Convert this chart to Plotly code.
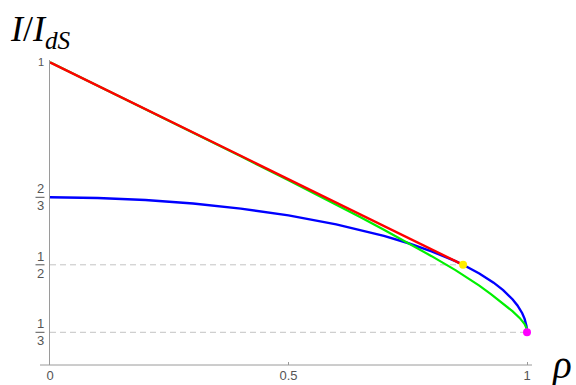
import plotly.graph_objects as go

# --- data -------------------------------------------------------------
rho_blue = [0.0, 0.1, 0.2, 0.3, 0.4, 0.5, 0.6, 0.7, 0.75, 0.8, 0.85, 0.866,
            0.9, 0.93, 0.95, 0.97, 0.98, 0.99, 0.995, 0.999, 1.0]
i_blue = [0.6667, 0.6650, 0.6599, 0.6513, 0.6388, 0.6220, 0.6000, 0.5714,
          0.5538, 0.5333, 0.5089, 0.5000, 0.4786, 0.4559, 0.4374, 0.4144,
          0.3997, 0.3804, 0.3666, 0.3482, 0.3333]

rho_green = [0.0, 0.1, 0.2, 0.3, 0.4, 0.5, 0.6, 0.65, 0.7, 0.75, 0.8, 0.85,
             0.875, 0.9, 0.925, 0.95, 0.97, 0.985, 0.995, 0.999, 1.0]
i_green = [1.0, 0.9423, 0.8844, 0.8263, 0.7679, 0.7088, 0.6490, 0.6182,
           0.5867, 0.5545, 0.5213, 0.4868, 0.4683, 0.4484, 0.4270, 0.4045,
           0.3850, 0.3683, 0.3535, 0.3430, 0.3333]

rho_red = [0.0, 0.866]
i_red = [1.0, 0.5]

rho_yellow = [0.866]
i_yellow = [0.5]
rho_magenta = [1.0]
i_magenta = [1 / 3]

rho_half = [0.0, 0.866]
i_half = [0.5, 0.5]
rho_third = [0.0, 1.0]
i_third = [1 / 3, 1 / 3]

x_tick_vals = [0, 0.5, 1]
x_tick_text = ["0", "0.5", "1"]

y_frac_vals = [2 / 3, 1 / 2, 1 / 3]
y_frac_num = ["2", "1", "1"]
y_frac_den = ["3", "2", "3"]
y_top_val = 1.0
y_top_text = "1"

# --- layout geometry --------------------------------------------------
W, H = 576, 385
ML, MR, MT, MB = 50, 44, 60, 20
PW = W - ML - MR
PH = H - MT - MB
X_RANGE = [0.0, 1.01048]
Y_RANGE = [0.25259, 1.00568]


def px_to_paper_x(px):
    return (px - ML) / PW


def px_to_paper_y(py):
    return (H - MB - py) / PH


AXIS_COL = "#9a9a9a"
LABEL_COL = "#555555"
SANS = "Liberation Sans, Arial, sans-serif"
SERIF = "Liberation Serif, Times New Roman, serif"

fig = go.Figure()

# dashed reference levels
for xs, ys in ((rho_half, i_half), (rho_third, i_third)):
    fig.add_trace(go.Scatter(x=xs, y=ys, mode="lines",
                             line=dict(color="#c4c4c4", width=1, dash="6px,4px"),
                             hoverinfo="skip", showlegend=False))

fig.add_trace(go.Scatter(x=rho_blue, y=i_blue, mode="lines",
                         line=dict(color="#0000ff", width=2.4),
                         showlegend=False))
fig.add_trace(go.Scatter(x=rho_green, y=i_green, mode="lines",
                         line=dict(color="#00f000", width=2.2),
                         showlegend=False))
fig.add_trace(go.Scatter(x=rho_red, y=i_red, mode="lines",
                         line=dict(color="#ff0000", width=2.4),
                         showlegend=False))
fig.add_trace(go.Scatter(x=rho_yellow, y=i_yellow, mode="markers",
                         marker=dict(color="#ffee00", size=8),
                         showlegend=False))
fig.add_trace(go.Scatter(x=rho_magenta, y=i_magenta, mode="markers",
                         marker=dict(color="#ff00ff", size=8),
                         showlegend=False))

shapes = []
# horizontal axis, extended slightly left of the vertical one
shapes.append(dict(type="line", xref="paper", yref="paper",
                   x0=px_to_paper_x(40), x1=1.0, y0=0, y1=0,
                   line=dict(color=AXIS_COL, width=1)))

annotations = []
# fractional tick labels on the vertical axis
for v, n, d in zip(y_frac_vals, y_frac_num, y_frac_den):
    annotations.append(dict(x=px_to_paper_x(40), xref="paper", y=v, yref="y",
                            text=n + "<br>" + d, showarrow=False,
                            xanchor="center", yanchor="middle",
                            font=dict(family=SANS, size=13, color=LABEL_COL)))
    shapes.append(dict(type="line", xref="paper", yref="y",
                       x0=px_to_paper_x(35.5), x1=px_to_paper_x(44.5), y0=v, y1=v,
                       line=dict(color=LABEL_COL, width=1)))
annotations.append(dict(x=px_to_paper_x(41), xref="paper", y=y_top_val, yref="y",
                        text=y_top_text, showarrow=False,
                        xanchor="center", yanchor="middle",
                        font=dict(family=SANS, size=11, color=LABEL_COL)))

# axis titles
annotations.append(dict(x=px_to_paper_x(8), xref="paper",
                        y=px_to_paper_y(7), yref="paper",
                        text="<i>I</i>/<i>I<sub>dS</sub></i>", showarrow=False,
                        xanchor="left", yanchor="top",
                        font=dict(family=SERIF, size=36, color="#000000")))
annotations.append(dict(x=px_to_paper_x(574), xref="paper",
                        y=px_to_paper_y(365), yref="paper",
                        text="<i>ρ</i>", showarrow=False,
                        xanchor="right", yanchor="middle",
                        font=dict(family=SERIF, size=39, color="#000000")))

fig.update_layout(
    width=W, height=H,
    margin=dict(l=ML, r=MR, t=MT, b=MB, autoexpand=False),
    paper_bgcolor="white", plot_bgcolor="white",
    shapes=shapes, annotations=annotations,
    xaxis=dict(range=X_RANGE, showgrid=False, zeroline=False,
               showline=False, tickmode="array",
               tickvals=x_tick_vals, ticktext=x_tick_text,
               ticks="inside", ticklen=3, tickcolor=AXIS_COL,
               ticklabelstandoff=1,
               tickfont=dict(family=SANS, size=13, color=LABEL_COL),
               automargin=False, fixedrange=True),
    yaxis=dict(range=Y_RANGE, showgrid=False, zeroline=False,
               showline=True, linecolor=AXIS_COL, linewidth=1,
               showticklabels=False, ticks="",
               automargin=False, fixedrange=True),
)

fig.write_html("out.html", config={"displayModeBar": False})
